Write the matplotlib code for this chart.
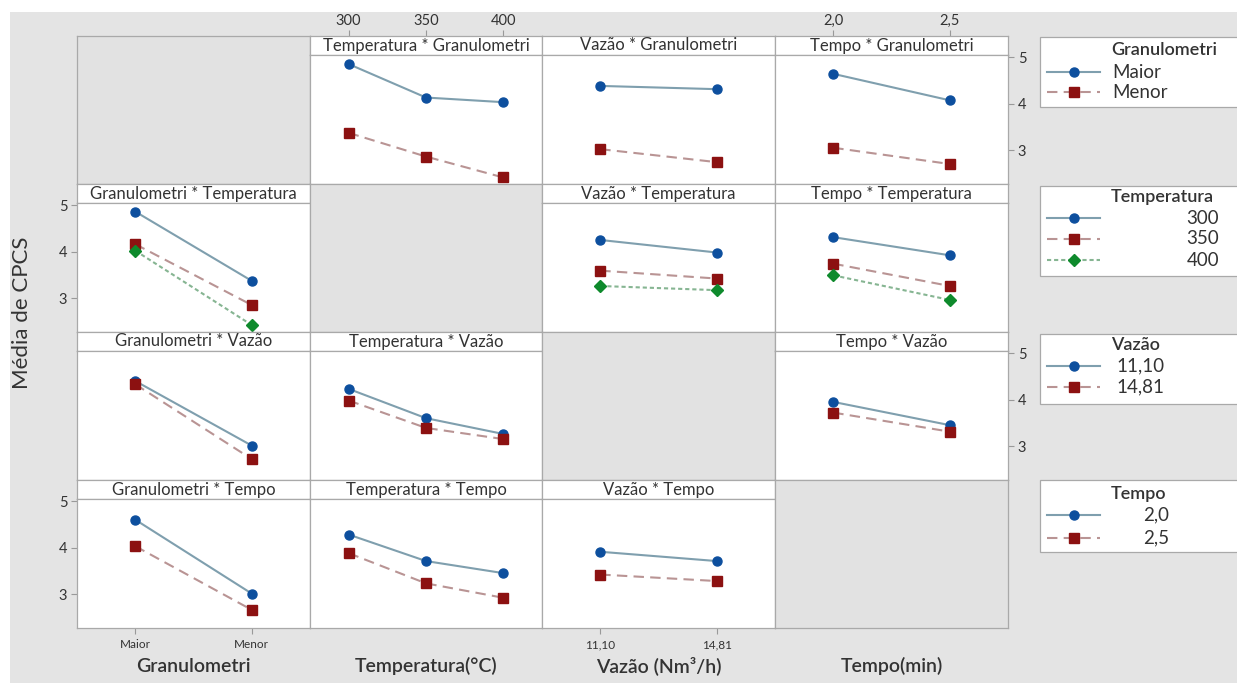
import matplotlib
matplotlib.use("Agg")
import matplotlib.pyplot as plt
from matplotlib.patches import Rectangle

plt.rcParams['font.family'] = ['Lato', 'DejaVu Sans']

# ---------------- data ----------------
factors = ['Granulometri', 'Temperatura', 'Vazão', 'Tempo']
axis_titles = ['Granulometri', 'Temperatura(°C)', 'Vazão (Nm³/h)', 'Tempo(min)']
levels_granulometri = ['Maior', 'Menor']
levels_temperatura = ['300', '350', '400']
levels_vazao = ['11,10', '14,81']
levels_tempo = ['2,0', '2,5']
levels = [levels_granulometri, levels_temperatura, levels_vazao, levels_tempo]

# means[trace level][x level]
# trace = Granulometri
temp_by_gran = [[4.85, 4.13, 4.03], [3.37, 2.86, 2.41]]
vazao_by_gran = [[4.38, 4.31], [3.02, 2.74]]
tempo_by_gran = [[4.64, 4.07], [3.05, 2.70]]
# trace = Temperatura
gran_by_temp = [[4.86, 3.37], [4.16, 2.85], [4.02, 2.42]]
vazao_by_temp = [[4.25, 3.98], [3.59, 3.42], [3.26, 3.17]]
tempo_by_temp = [[4.31, 3.92], [3.74, 3.26], [3.49, 2.96]]
# trace = Vazão
gran_by_vazao = [[4.40, 3.01], [4.33, 2.72]]
temp_by_vazao = [[4.23, 3.60, 3.26], [3.98, 3.39, 3.15]]
tempo_by_vazao = [[3.95, 3.45], [3.72, 3.31]]
# trace = Tempo
gran_by_tempo = [[4.60, 3.01], [4.03, 2.66]]
temp_by_tempo = [[4.28, 3.71, 3.45], [3.88, 3.23, 2.92]]
vazao_by_tempo = [[3.91, 3.71], [3.42, 3.28]]

panel_data = {
    (0, 1): temp_by_gran, (0, 2): vazao_by_gran, (0, 3): tempo_by_gran,
    (1, 0): gran_by_temp, (1, 2): vazao_by_temp, (1, 3): tempo_by_temp,
    (2, 0): gran_by_vazao, (2, 1): temp_by_vazao, (2, 3): tempo_by_vazao,
    (3, 0): gran_by_tempo, (3, 1): temp_by_tempo, (3, 2): vazao_by_tempo,
}

# ---------------- style ----------------
styles = [
    dict(color='#7f9fae', ls='-', marker='o', mfc='#0d4f9e', mec='#0d4f9e', ms=6.5),
    dict(color='#b99494', ls=(0, (5, 3)), marker='s', mfc='#8c1111', mec='#8c1111', ms=6.5),
    dict(color='#86b592', ls=(0, (2, 1.4)), marker='D', mfc='#0e8a2c', mec='#0e8a2c', ms=6.5),
]
BG = '#e4e4e4'
EDGE = '#a9a9a9'
TXT = '#333333'

W, H = 1237, 683
fig = plt.figure(figsize=(W / 100, H / 100), dpi=100)
fig.patch.set_facecolor('white')
fig.patches.append(Rectangle((10 / W, 0), 1, 1 - 12 / H, transform=fig.transFigure,
                             facecolor=BG, edgecolor='none', zorder=-10))

colx = [77, 310, 542, 775, 1008]
rowy = [36, 184, 332, 480, 628]
STRIP = 19
YLIM = (2.27, 5.045)


def frac(x0, y0, x1, y1):
    return [x0 / W, 1 - y1 / H, (x1 - x0) / W, (y1 - y0) / H]


def style_spines(ax):
    for s in ax.spines.values():
        s.set_color(EDGE)
        s.set_linewidth(0.9)


for r in range(4):
    for c in range(4):
        x0, x1 = colx[c], colx[c + 1]
        y0, y1 = rowy[r], rowy[r + 1]
        n = len(levels[c])
        if r == c:
            ax = fig.add_axes(frac(x0, y0, x1, y1))
            ax.set_facecolor('#e2e2e2')
            ax.set_xticks([])
            ax.set_yticks([])
            style_spines(ax)
            continue
        sax = fig.add_axes(frac(x0, y0, x1, y0 + STRIP))
        sax.set_facecolor('white')
        style_spines(sax)
        sax.set_xlim(-0.5, n - 0.5)
        sax.set_yticks([])
        sax.text(0.5, 0.5, f"{factors[c]} * {factors[r]}", transform=sax.transAxes,
                 ha='center', va='center', fontsize=12, color=TXT)
        if r == 0 and c in (1, 3):
            sax.set_xticks(range(n))
            sax.set_xticklabels(levels[c])
            sax.xaxis.tick_top()
            sax.tick_params(axis='x', length=4, color='#999999', labelsize=10.5,
                            labelcolor=TXT, pad=2)
        else:
            sax.set_xticks([])

        ax = fig.add_axes(frac(x0, y0 + STRIP, x1, y1))
        ax.set_facecolor('white')
        style_spines(ax)
        vals = panel_data[(r, c)]
        xs = list(range(n))
        for i, series in enumerate(vals):
            st = styles[i]
            ax.plot(xs, series, color=st['color'], ls=st['ls'], lw=1.5,
                    marker=st['marker'], mfc=st['mfc'], mec=st['mec'], ms=st['ms'])
        ax.set_xlim(-0.5, n - 0.5)
        ax.set_ylim(*YLIM)
        ax.set_xticks([])
        ax.set_yticks([])
        if r == 3 and c in (0, 2):
            ax.set_xticks(xs)
            ax.set_xticklabels(levels[c])
            ax.tick_params(axis='x', length=4, color='#999999', labelsize=8.5,
                           labelcolor=TXT, pad=4)
        if c == 0 and r in (1, 3):
            ax.set_yticks([3, 4, 5])
            ax.tick_params(axis='y', length=4, color='#999999', labelsize=10.5,
                           labelcolor=TXT, pad=3)
        if c == 3 and r in (0, 2):
            ax.set_yticks([3, 4, 5])
            ax.yaxis.tick_right()
            ax.tick_params(axis='y', length=4, color='#999999', labelsize=10.5,
                           labelcolor=TXT, pad=3)

# axis titles
for c in range(4):
    xc = (colx[c] + colx[c + 1]) / 2
    fig.text(xc / W, 1 - 666 / H, axis_titles[c], ha='center', va='center',
             fontsize=14, color=TXT, fontweight='semibold')
fig.text(22 / W, 1 - 313 / H, 'Média de CPCS', rotation=90, ha='center', va='center',
         fontsize=16, color=TXT)

# ---------------- legends ----------------
ov = fig.add_axes([0, 0, 1, 1])
ov.set_xlim(0, W)
ov.set_ylim(H, 0)
ov.axis('off')

legends = [
    dict(top=37, bottom=107, title='Granulometri', title_x=1111, title_y=50,
         labels=levels_granulometri, lab_x=1112, lab_ha='left', ys=[72, 92]),
    dict(top=186, bottom=276, title='Temperatura', title_x=1111, title_y=197,
         labels=levels_temperatura, lab_x=1219, lab_ha='right', ys=[218, 239, 260]),
    dict(top=334, bottom=404, title='Vazão', title_x=1111, title_y=345,
         labels=levels_vazao, lab_x=1116, lab_ha='left', ys=[366, 387]),
    dict(top=480, bottom=552, title='Tempo', title_x=1111, title_y=494,
         labels=levels_tempo, lab_x=1169, lab_ha='right', ys=[515, 538]),
]
for lg in legends:
    ov.add_patch(Rectangle((1040, lg['top']), 220, lg['bottom'] - lg['top'],
                           facecolor='white', edgecolor=EDGE, lw=0.9))
    ov.text(lg['title_x'], lg['title_y'], lg['title'], ha='left', va='center',
            fontsize=13, color=TXT, fontweight='semibold')
    for i, (lab, y) in enumerate(zip(lg['labels'], lg['ys'])):
        st = styles[i]
        ov.plot([1047, 1100], [y, y], color=st['color'], ls=st['ls'], lw=1.5)
        ov.plot([1074], [y], ls='none', marker=st['marker'], mfc=st['mfc'],
                mec=st['mec'], ms=st['ms'])
        ov.text(lg['lab_x'], y, lab, ha=lg['lab_ha'], va='center', fontsize=13.5,
                color=TXT)

fig.savefig('out.png', dpi=100, facecolor=fig.get_facecolor())
